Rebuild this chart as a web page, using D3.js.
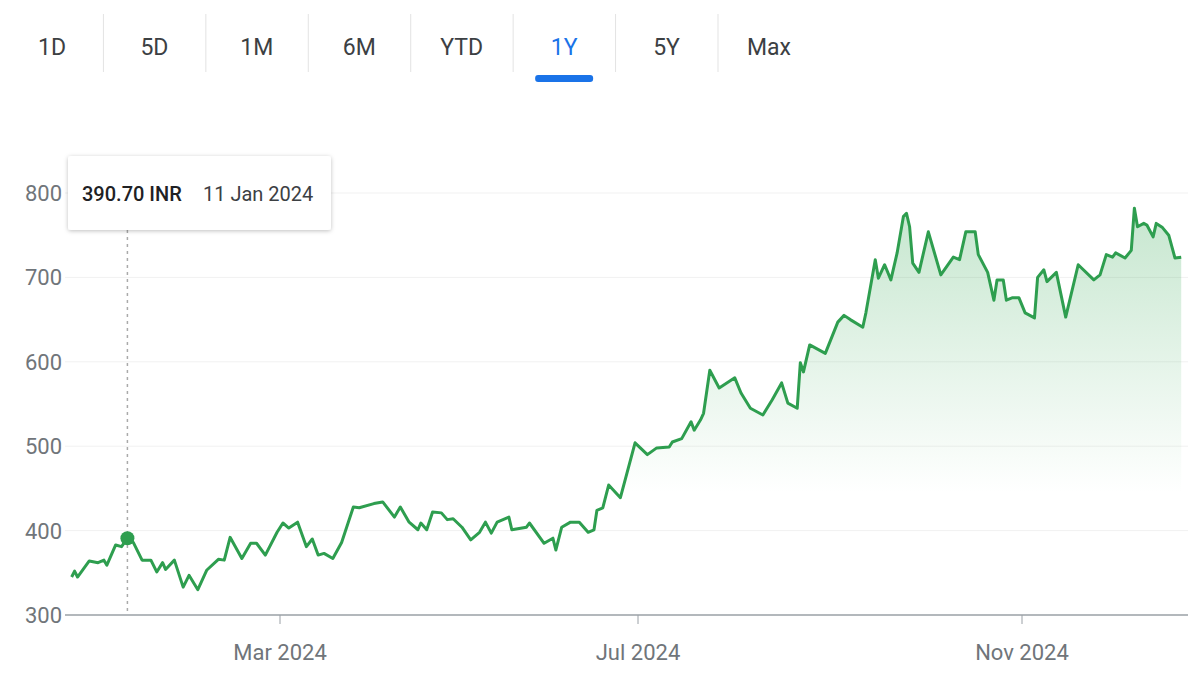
<!DOCTYPE html>
<html><head><meta charset="utf-8">
<script src="https://cdn.jsdelivr.net/npm/d3@7"></script>
<style>body{margin:0;background:#fff}svg{display:block;font-family:Roboto,Arial,sans-serif}</style>
</head><body><div id="chart"></div>
<script>
// days since 1 Jan 2024, and closing price (INR)
const dayOffsets = [-11,-10,-9,-5,-2,0,1,4,6,8,10,13,16,18,20,21,24,27,29,32,35,39,41,43,47,50,52,55,59,61,63,66,69,71,73,75,78,81,85,87,92,95,99,101,104,107,108,110,112,115,117,119,122,125,128,130,132,134,138,139,144,145,150,153,154,156,159,162,165,167,168,170,172,176,181,185,188,192,193,196,199,200,202,203,205,208,213,215,218,222,225,228,230,233,234,235,237,242,246,248,250,254,255,258,259,261,263,265,267,268,269,270,272,275,279,283,285,287,290,291,294,296,297,299,300,302,304,306,309,310,312,313,316,319,323,328,330,332,334,335,338,340,341,342,344,345,347,348,350,352,354,356];
const prices = [345,352,345,364,362,365,359,383,381,391,386,365,365,351,362,354,365,333,347,330,353,366,365,392,367,385,385,371,398,409,403,410,381,390,371,373,367,386,428,427,432,434,416,428,410,401,409,401,422,421,413,414,404,389,398,410,397,410,416,401,404,409,385,391,377,404,410,410,398,401,424,427,454,439,504,490,498,499,505,509,529,519,531,539,590,569,581,563,545,537,555,575,551,545,599,588,620,610,647,655,650,641,658,721,699,715,697,729,772,776,760,717,706,754,703,724,721,754,754,727,706,673,697,697,673,676,676,658,652,700,709,695,706,653,715,697,703,727,724,729,723,732,782,760,764,762,748,764,759,750,723,724];
const yTicks = [300,400,500,600,700,800];
const xTickLabels = ["Mar 2024","Jul 2024","Nov 2024"];
const tabs = ["1D","5D","1M","6M","YTD","1Y","5Y","Max"];
const activeTab = "1Y";
const tipPrice = "390.70 INR", tipDate = "11 Jan 2024", tipIndex = 9;

const W = 1198, H = 675;
const svg = d3.select('#chart').append('svg').attr('width', W).attr('height', H);
const toDate = d => new Date(2024, 0, 1 + d);
const data = dayOffsets.map((d, i) => ({date: toDate(d), v: prices[i]}));

// tabs
const tabX = d3.scalePoint().domain(tabs).range([52, 769]);
tabs.forEach((t, i) => {
  if (i > 0) svg.append('line').attr('x1', tabX(t) - 51).attr('x2', tabX(t) - 51)
    .attr('y1', 14).attr('y2', 72).attr('stroke', '#e3e3e3');
  svg.append('text').attr('x', tabX(t)).attr('y', 55).attr('text-anchor', 'middle')
    .attr('font-size', 23).attr('fill', t === activeTab ? '#1a73e8' : '#3c4043').text(t);
});
svg.append('rect').attr('x', tabX(activeTab) - 29).attr('y', 75).attr('width', 58).attr('height', 7)
  .attr('rx', 3).attr('fill', '#1a73e8');

// scales
const x = d3.scaleTime().domain([new Date(2024,2,1), new Date(2024,6,1), new Date(2024,10,1)]).range([280, 638, 1022]);
const y = d3.scaleLinear().domain([300, 800]).range([615, 193]);
const left = 65, right = 1188;

yTicks.forEach(t => {
  if (t > 300) svg.append('line').attr('x1', left).attr('x2', right).attr('y1', y(t)).attr('y2', y(t)).attr('stroke', '#f1f1f1');
  svg.append('text').attr('x', 62).attr('y', y(t) + 8).attr('text-anchor', 'end')
    .attr('font-size', 22).attr('fill', '#70757a').text(t);
});
svg.append('line').attr('x1', left).attr('x2', right).attr('y1', 615).attr('y2', 615).attr('stroke', '#9aa0a6').attr('stroke-width', 1.5);
const xTicks = [new Date(2024,2,1), new Date(2024,6,1), new Date(2024,10,1)];
xTicks.forEach((d, i) => {
  svg.append('line').attr('x1', x(d)).attr('x2', x(d)).attr('y1', 615).attr('y2', 624).attr('stroke', '#9aa0a6');
  svg.append('text').attr('x', x(d)).attr('y', 660).attr('text-anchor', 'middle')
    .attr('font-size', 22).attr('fill', '#70757a').text(xTickLabels[i]);
});

// area + line
const grad = svg.append('defs').append('linearGradient').attr('id', 'g').attr('x1', 0).attr('x2', 0).attr('y1', 0).attr('y2', 1);
grad.append('stop').attr('offset', '0%').attr('stop-color', '#34a853').attr('stop-opacity', 0.28);
grad.append('stop').attr('offset', '70%').attr('stop-color', '#34a853').attr('stop-opacity', 0);
svg.append('path').datum(data).attr('fill', 'url(#g)')
  .attr('d', d3.area().x(d => x(d.date)).y0(615).y1(d => y(d.v)));
svg.append('path').datum(data).attr('fill', 'none').attr('stroke', '#2e9e4f').attr('stroke-width', 3)
  .attr('stroke-linejoin', 'round').attr('d', d3.line().x(d => x(d.date)).y(d => y(d.v)));

// tooltip
const tp = data[tipIndex];
svg.append('line').attr('x1', x(tp.date)).attr('x2', x(tp.date)).attr('y1', 230).attr('y2', 615)
  .attr('stroke', '#aaa').attr('stroke-dasharray', '3,4').attr('stroke-width', 1.5);
svg.append('circle').attr('cx', x(tp.date)).attr('cy', y(tp.v)).attr('r', 7).attr('fill', '#2e9e4f');
const f = svg.append('defs').append('filter').attr('id', 'sh').attr('x', -0.1).attr('y', -0.2).attr('width', 1.2).attr('height', 1.5);
f.append('feDropShadow').attr('dx', 0).attr('dy', 1).attr('stdDeviation', 2).attr('flood-opacity', 0.25);
svg.append('rect').attr('x', 68).attr('y', 156).attr('width', 263).attr('height', 74).attr('rx', 3)
  .attr('fill', '#fff').attr('filter', 'url(#sh)');
svg.append('text').attr('x', 82).attr('y', 201).attr('font-size', 20).attr('font-weight', 500).attr('fill', '#202124').text(tipPrice);
svg.append('text').attr('x', 203).attr('y', 201).attr('font-size', 20).attr('fill', '#3c4043').text(tipDate);
</script></body></html>
